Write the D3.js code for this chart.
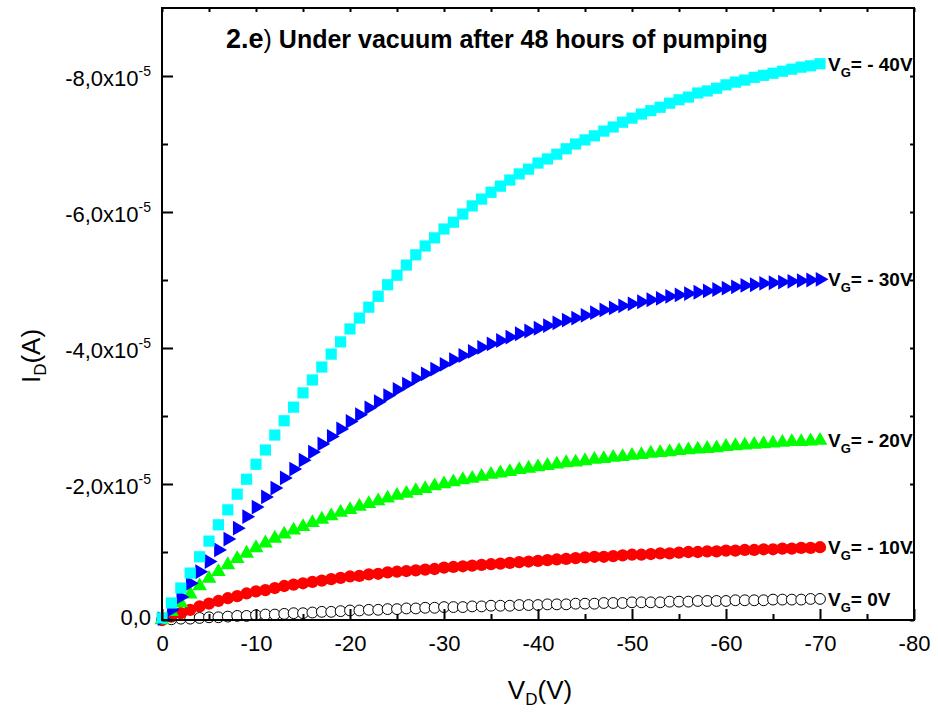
<!DOCTYPE html>
<html>
<head>
<meta charset="utf-8">
<script src="https://cdn.jsdelivr.net/npm/d3@7"></script>
<style>
  html, body { margin: 0; padding: 0; background: #fff; }
  svg { display: block; font-family: "Liberation Sans", Arial, sans-serif; }
</style>
</head>
<body>
<svg id="chart" width="938" height="713"></svg>
<script>
// Drain voltage sweep (V)
const vd = [0,-1,-2,-3,-4,-5,-6,-7,-8,-9,-10,-11,-12,-13,-14,-15,-16,-17,-18,-19,-20,
  -21,-22,-23,-24,-25,-26,-27,-28,-29,-30,-31,-32,-33,-34,-35,-36,-37,-38,-39,-40,
  -41,-42,-43,-44,-45,-46,-47,-48,-49,-50,-51,-52,-53,-54,-55,-56,-57,-58,-59,-60,
  -61,-62,-63,-64,-65,-66,-67,-68,-69,-70];

// Drain current, in units of 1e-5 A, one array per gate voltage
const idVg0 = [0.00,-0.01,-0.02,-0.02,-0.03,-0.04,-0.04,-0.05,-0.06,-0.06,-0.07,
  -0.08,-0.08,-0.09,-0.10,-0.10,-0.11,-0.12,-0.12,-0.13,-0.14,
  -0.14,-0.15,-0.15,-0.16,-0.16,-0.17,-0.17,-0.18,-0.18,-0.19,
  -0.19,-0.19,-0.20,-0.20,-0.21,-0.21,-0.21,-0.22,-0.22,-0.22,
  -0.23,-0.23,-0.23,-0.24,-0.24,-0.24,-0.25,-0.25,-0.25,-0.26,
  -0.26,-0.26,-0.26,-0.27,-0.27,-0.27,-0.28,-0.28,-0.28,-0.28,
  -0.29,-0.29,-0.29,-0.29,-0.30,-0.30,-0.30,-0.30,-0.31,-0.31];

const idVg10 = [0.00,-0.05,-0.10,-0.15,-0.20,-0.24,-0.28,-0.32,-0.35,-0.39,-0.42,
  -0.44,-0.47,-0.50,-0.52,-0.54,-0.56,-0.58,-0.60,-0.62,-0.64,
  -0.65,-0.67,-0.68,-0.70,-0.71,-0.72,-0.73,-0.74,-0.75,-0.77,
  -0.78,-0.79,-0.80,-0.81,-0.82,-0.83,-0.84,-0.85,-0.86,-0.87,
  -0.88,-0.89,-0.90,-0.91,-0.92,-0.93,-0.93,-0.94,-0.95,-0.96,
  -0.96,-0.97,-0.98,-0.98,-0.99,-1.00,-1.00,-1.01,-1.01,-1.02,
  -1.02,-1.03,-1.03,-1.04,-1.04,-1.05,-1.05,-1.06,-1.06,-1.07];

const idVg20 = [0.00,-0.12,-0.25,-0.38,-0.50,-0.61,-0.71,-0.81,-0.90,-0.98,-1.06,
  -1.13,-1.20,-1.26,-1.32,-1.37,-1.43,-1.48,-1.53,-1.58,-1.62,
  -1.67,-1.71,-1.75,-1.79,-1.83,-1.86,-1.90,-1.93,-1.97,-2.00,
  -2.03,-2.06,-2.08,-2.11,-2.14,-2.16,-2.18,-2.21,-2.23,-2.25,
  -2.27,-2.29,-2.31,-2.32,-2.34,-2.36,-2.37,-2.39,-2.40,-2.42,
  -2.43,-2.45,-2.46,-2.47,-2.49,-2.50,-2.51,-2.52,-2.53,-2.55,
  -2.56,-2.57,-2.58,-2.59,-2.60,-2.61,-2.62,-2.62,-2.63,-2.64];

const idVg30 = [-0.02,-0.15,-0.34,-0.54,-0.71,-0.86,-1.03,-1.19,-1.35,-1.52,-1.66,
  -1.81,-1.94,-2.09,-2.22,-2.35,-2.47,-2.59,-2.70,-2.81,-2.92,
  -3.02,-3.12,-3.21,-3.30,-3.39,-3.47,-3.55,-3.62,-3.69,-3.76,
  -3.83,-3.89,-3.95,-4.01,-4.06,-4.11,-4.16,-4.21,-4.25,-4.29,
  -4.33,-4.37,-4.41,-4.44,-4.48,-4.52,-4.56,-4.59,-4.62,-4.65,
  -4.68,-4.71,-4.73,-4.76,-4.78,-4.80,-4.82,-4.84,-4.86,-4.88,
  -4.90,-4.92,-4.93,-4.95,-4.96,-4.97,-4.98,-4.99,-5.00,-5.01];

const idVg40 = [-0.03,-0.25,-0.47,-0.69,-0.93,-1.16,-1.40,-1.62,-1.85,-2.07,-2.29,
  -2.50,-2.72,-2.93,-3.13,-3.34,-3.53,-3.72,-3.91,-4.09,-4.28,
  -4.44,-4.60,-4.76,-4.93,-5.07,-5.22,-5.37,-5.50,-5.62,-5.75,
  -5.85,-5.97,-6.09,-6.19,-6.29,-6.38,-6.47,-6.56,-6.63,-6.72,
  -6.78,-6.85,-6.93,-7.00,-7.06,-7.12,-7.19,-7.25,-7.32,-7.38,
  -7.44,-7.49,-7.54,-7.60,-7.65,-7.69,-7.75,-7.78,-7.82,-7.87,
  -7.91,-7.94,-7.98,-8.01,-8.04,-8.07,-8.10,-8.13,-8.15,-8.18];

// Axis ticks
const xMajorTicks = [0,-10,-20,-30,-40,-50,-60,-70,-80];
const xMinorTicks = [-5,-15,-25,-35,-45,-55,-65,-75];
const yMajorTicks = [0,-2,-4,-6,-8];
const yMinorTicks = [-1,-3,-5,-7];
const yTickLabels = ["0,0","-2,0x10","-4,0x10","-6,0x10","-8,0x10"];
const yTickExponent = "-5";

const gateLabels = ["0V","- 10V","- 20V","- 30V","- 40V"];

const svg = d3.select("#chart");
const mLeft = 162, mRight = 914, mTop = 8, mBottom = 620;

const x = d3.scaleLinear().domain([0, -80]).range([mLeft, mRight]);
const y = d3.scaleLinear().domain([0, -9]).range([mBottom, mTop]);

// Series definitions: data + marker style
const series = [
  { values: idVg0,  label: gateLabels[0], shape: d3.symbolCircle,   size: 92,  fill: "#ffffff", stroke: "#000000", rotate: 0 },
  { values: idVg10, label: gateLabels[1], shape: d3.symbolCircle,   size: 118, fill: "#ff0000", stroke: "none", rotate: 0 },
  { values: idVg20, label: gateLabels[2], shape: d3.symbolTriangle, size: 95,  fill: "#00ff00", stroke: "none", rotate: 0 },
  { values: idVg30, label: gateLabels[3], shape: d3.symbolTriangle, size: 95,  fill: "#0000ff", stroke: "none", rotate: 90 },
  { values: idVg40, label: gateLabels[4], shape: d3.symbolSquare,   size: 125, fill: "#00ffff", stroke: "none", rotate: 0 }
];

const plot = svg.append("g");
series.forEach(s => {
  const sym = d3.symbol().type(s.shape).size(s.size);
  plot.append("g").selectAll("path")
    .data(vd.map((v, i) => [v, s.values[i]]))
    .join("path")
    .attr("d", sym)
    .attr("transform", d => `translate(${x(d[0])},${y(d[1])}) rotate(${s.rotate})`)
    .attr("fill", s.fill)
    .attr("stroke", s.stroke)
    .attr("stroke-width", 1);
});

// Series labels at the end of each curve
series.forEach(s => {
  const last = s.values[s.values.length - 1];
  const t = svg.append("text")
    .attr("x", x(-70) + 8)
    .attr("y", y(last) + 7)
    .attr("font-size", 19)
    .attr("font-weight", "bold")
    .attr("fill", "#000");
  t.append("tspan").text("V");
  t.append("tspan").attr("font-size", 13).attr("dy", 6).text("G");
  t.append("tspan").attr("dy", -6).text("= " + s.label);
});

// Frame
svg.append("rect")
  .attr("x", mLeft).attr("y", mTop)
  .attr("width", mRight - mLeft).attr("height", mBottom - mTop)
  .attr("fill", "none").attr("stroke", "#000").attr("stroke-width", 2);

// Bottom axis ticks (inward) with labels
const gx = svg.append("g").attr("transform", `translate(0,${mBottom})`)
  .call(d3.axisBottom(x).tickValues(xMajorTicks).tickSizeInner(-11).tickSizeOuter(0));
svg.append("g").attr("transform", `translate(0,${mBottom})`)
  .call(d3.axisBottom(x).tickValues(xMinorTicks).tickSizeInner(-6).tickSizeOuter(0).tickFormat(""));
gx.selectAll("text").attr("dy", null).attr("y", 31).attr("font-size", 22).attr("fill", "#000")
  .style("font-family", "'Liberation Sans', Arial, sans-serif")
  .text(d => d === 0 ? "0" : "-" + Math.abs(d));

// Top axis ticks (short)
svg.append("g").attr("transform", `translate(0,${mTop})`)
  .call(d3.axisTop(x).tickValues(xMajorTicks.concat(xMinorTicks)).tickSizeInner(-4).tickSizeOuter(0).tickFormat(""));

// Left axis ticks
svg.append("g").attr("transform", `translate(${mLeft},0)`)
  .call(d3.axisLeft(y).tickValues(yMajorTicks).tickSizeInner(-11).tickSizeOuter(0).tickFormat(""));
svg.append("g").attr("transform", `translate(${mLeft},0)`)
  .call(d3.axisLeft(y).tickValues(yMinorTicks).tickSizeInner(-6).tickSizeOuter(0).tickFormat(""));

// Right axis ticks (short)
svg.append("g").attr("transform", `translate(${mRight},0)`)
  .call(d3.axisRight(y).tickValues(yMajorTicks.concat(yMinorTicks)).tickSizeInner(-4).tickSizeOuter(0).tickFormat(""));

svg.selectAll(".domain").remove();
svg.selectAll(".tick line").attr("stroke", "#000").attr("stroke-width", 2);

// Y tick labels with power-of-ten exponent
yMajorTicks.forEach((v, i) => {
  const t = svg.append("text")
    .attr("x", 151)
    .attr("y", v === 0 ? y(v) + 5 : y(v) + 10)
    .attr("text-anchor", "end")
    .attr("font-size", 22)
    .attr("fill", "#000");
  t.append("tspan").text(yTickLabels[i]);
  if (v !== 0) t.append("tspan").attr("font-size", 14).attr("dy", -10).text(yTickExponent);
});

// Axis titles
const xt = svg.append("text").attr("x", 540).attr("y", 699).attr("text-anchor", "middle")
  .attr("font-size", 26).attr("fill", "#000");
xt.append("tspan").text("V");
xt.append("tspan").attr("font-size", 17).attr("dy", 6).text("D");
xt.append("tspan").attr("dy", -6).text("(V)");

const yt = svg.append("text").attr("transform", "translate(40,356) rotate(-90)")
  .attr("text-anchor", "middle").attr("font-size", 26).attr("fill", "#000");
yt.append("tspan").text("I");
yt.append("tspan").attr("font-size", 17).attr("dy", 6).text("D");
yt.append("tspan").attr("dy", -6).text("(A)");

// Title
const tt = svg.append("text").attr("x", 226).attr("y", 48)
  .attr("font-size", 25).attr("font-weight", "bold").attr("fill", "#000");
tt.append("tspan").attr("font-size", 27).text("2.e");
tt.append("tspan").attr("font-weight", "normal").text(")");
tt.append("tspan").text(" Under vacuum after 48 hours of pumping");
</script>
</body>
</html>
